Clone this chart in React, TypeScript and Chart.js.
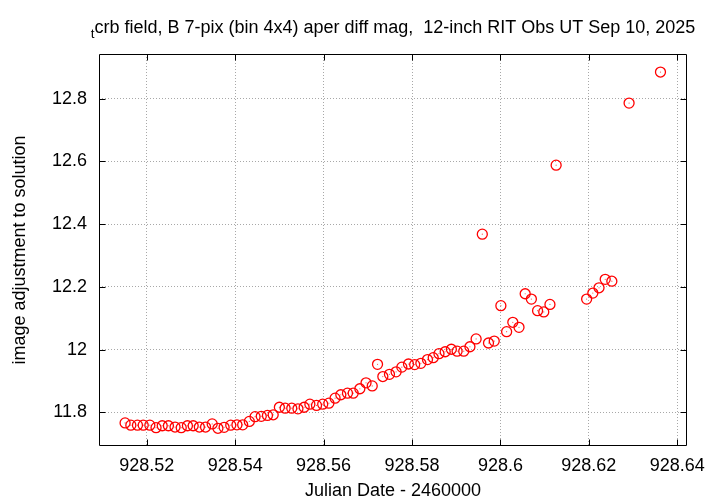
import React, { useEffect, useRef } from 'react';
import { Chart, registerables } from 'chart.js';

Chart.register(...registerables);

// Julian Date - 2460000
const jd = [
  928.5151, 928.5164, 928.5179, 928.5192, 928.5207, 928.5221, 928.5235, 928.5249, 928.5264, 928.5278,
  928.5292, 928.5305, 928.5319, 928.5333, 928.5348, 928.5361, 928.5375, 928.539, 928.5404, 928.5417,
  928.5432, 928.5445, 928.5459, 928.5473, 928.5486, 928.55, 928.5513, 928.5528, 928.5542, 928.5556,
  928.5569, 928.5584, 928.5598, 928.5612, 928.5626, 928.5639, 928.5654, 928.5667, 928.5682, 928.5696,
  928.571, 928.5722, 928.5734, 928.5749, 928.5764, 928.5777, 928.5792, 928.5806, 928.582, 928.5835,
  928.5848, 928.5861, 928.5875, 928.5889, 928.5902, 928.5917, 928.5931, 928.5945, 928.5959, 928.5973,
  928.5986, 928.6001, 928.6014, 928.6028, 928.6042, 928.6056, 928.607, 928.6084, 928.6098, 928.6112,
  928.6126, 928.6195, 928.6209, 928.6223, 928.6237, 928.6252, 928.6291, 928.6362,
];

// image adjustment to solution
const mag = [
  11.766, 11.759, 11.759, 11.759, 11.759, 11.751, 11.757, 11.757, 11.753, 11.751,
  11.757, 11.757, 11.753, 11.753, 11.763, 11.749, 11.752, 11.759, 11.76, 11.76,
  11.771, 11.786, 11.787, 11.79, 11.792, 11.816, 11.813, 11.813, 11.811, 11.816,
  11.826, 11.822, 11.826, 11.829, 11.845, 11.856, 11.861, 11.861, 11.875, 11.894,
  11.884, 11.953, 11.914, 11.921, 11.929, 11.944, 11.954, 11.952, 11.956, 11.968,
  11.974, 11.987, 11.993, 12.001, 11.995, 11.995, 12.009, 12.034, 12.368, 12.021,
  12.027, 12.14, 12.057, 12.087, 12.071, 12.178, 12.161, 12.124, 12.12, 12.144,
  12.588, 12.161, 12.18, 12.197, 12.224, 12.218, 12.786, 12.885,
];

const xTickValues = [928.52, 928.54, 928.56, 928.58, 928.6, 928.62, 928.64];
const yTickValues = [11.8, 12, 12.2, 12.4, 12.6, 12.8];
const xRange = [928.5092, 928.6422];
const yRange = [11.6925, 12.9425];

const titleSub = 't';
const titleMain = 'crb field, B 7-pix (bin 4x4) aper diff mag,  12-inch RIT Obs UT Sep 10, 2025';
const xTitle = 'Julian Date - 2460000';
const yTitle = 'image adjustment to solution';

const FAMILY = '"Liberation Sans", Arial, Helvetica, sans-serif';
const FSIZE = 18;

const fmt = (v: number) => String(Number(Number(v).toFixed(3)));

const framePlugin = {
  id: 'gnuFrame',
  afterDraw(chart: any) {
    const { ctx, chartArea: a, scales } = chart;
    const L = Math.round(a.left) + 0.5;
    const R = Math.round(a.right) - 0.5;
    const T = Math.round(a.top) + 0.5;
    const B = Math.round(a.bottom) - 0.5;
    ctx.save();
    ctx.strokeStyle = '#000';
    ctx.lineWidth = 1;
    ctx.setLineDash([]);
    ctx.beginPath();
    ctx.rect(L, T, R - L, B - T);
    const tl = 6;
    xTickValues.forEach((v) => {
      const px = Math.round(scales.x.getPixelForValue(v)) + 0.5;
      ctx.moveTo(px, B);
      ctx.lineTo(px, B - tl);
      ctx.moveTo(px, T);
      ctx.lineTo(px, T + tl);
    });
    yTickValues.forEach((v) => {
      const py = Math.round(scales.y.getPixelForValue(v)) + 0.5;
      ctx.moveTo(L, py);
      ctx.lineTo(L + tl, py);
      ctx.moveTo(R, py);
      ctx.lineTo(R - tl, py);
    });
    ctx.stroke();

    // title with subscript
    const cx = (a.left + a.right) / 2;
    const baseY = 33;
    ctx.fillStyle = '#000';
    ctx.textBaseline = 'alphabetic';
    ctx.textAlign = 'left';
    ctx.font = `${FSIZE * 0.75}px ${FAMILY}`;
    const wSub = ctx.measureText(titleSub).width;
    ctx.font = `${FSIZE}px ${FAMILY}`;
    const wMain = ctx.measureText(titleMain).width;
    const x0 = cx - (wSub + wMain) / 2;
    ctx.font = `${FSIZE * 0.75}px ${FAMILY}`;
    ctx.fillText(titleSub, x0, baseY + 5);
    ctx.font = `${FSIZE}px ${FAMILY}`;
    ctx.fillText(titleMain, x0 + wSub, baseY);
    ctx.restore();
  },
};

export default function App() {
  const ref = useRef<HTMLCanvasElement | null>(null);

  useEffect(() => {
    document.body.style.margin = '0';
    const canvas = ref.current;
    if (!canvas) return;
    const pts = jd.map((x, i) => ({ x, y: mag[i] }));
    const font = { family: FAMILY, size: FSIZE };
    const chart = new Chart(canvas, {
      type: 'scatter',
      data: {
        datasets: [
          {
            data: pts,
            pointStyle: 'circle',
            pointRadius: 5,
            pointHoverRadius: 5,
            borderColor: '#ff0000',
            backgroundColor: 'rgba(0,0,0,0)',
            borderWidth: 1.3,
          },
          {
            data: pts,
            pointStyle: 'circle',
            pointRadius: 0.6,
            pointHoverRadius: 0.6,
            borderWidth: 0,
            backgroundColor: 'rgba(255,0,0,0.7)',
          },
        ],
      },
      options: {
        responsive: false,
        animation: false,
        events: [],
        layout: { padding: { left: 0, top: 54, right: 33, bottom: 0 } },
        plugins: {
          legend: { display: false },
          tooltip: { enabled: false },
          title: { display: false },
        },
        scales: {
          x: {
            type: 'linear',
            min: xRange[0],
            max: xRange[1],
            afterBuildTicks: (s: any) => {
              s.ticks = xTickValues.map((value) => ({ value }));
            },
            afterFit: (s: any) => {
              s.height = 58;
            },
            grid: { color: '#a8a8a8', drawTicks: false, lineWidth: 1 },
            border: { display: false, dash: [1, 2] },
            ticks: {
              padding: 9,
              color: '#000',
              font,
              maxRotation: 0,
              autoSkip: false,
              callback: (v: any) => fmt(v),
            },
            title: { display: true, text: xTitle, color: '#000', font, padding: { top: 0, bottom: 2 } },
          },
          y: {
            type: 'linear',
            min: yRange[0],
            max: yRange[1],
            afterBuildTicks: (s: any) => {
              s.ticks = yTickValues.map((value) => ({ value }));
            },
            afterFit: (s: any) => {
              s.width = 99;
            },
            grid: { color: '#a8a8a8', drawTicks: false, lineWidth: 1 },
            border: { display: false, dash: [1, 2] },
            ticks: {
              padding: 12,
              color: '#000',
              font,
              autoSkip: false,
              callback: (v: any) => fmt(v),
            },
            title: { display: true, text: yTitle, color: '#000', font, padding: { top: 9, bottom: 0 } },
          },
        },
      },
      plugins: [framePlugin],
    });
    return () => chart.destroy();
  }, []);

  return (
    <div style={{ width: 720, height: 504, background: '#fff' }}>
      <canvas ref={ref} width={720} height={504} style={{ display: 'block' }} />
    </div>
  );
}
